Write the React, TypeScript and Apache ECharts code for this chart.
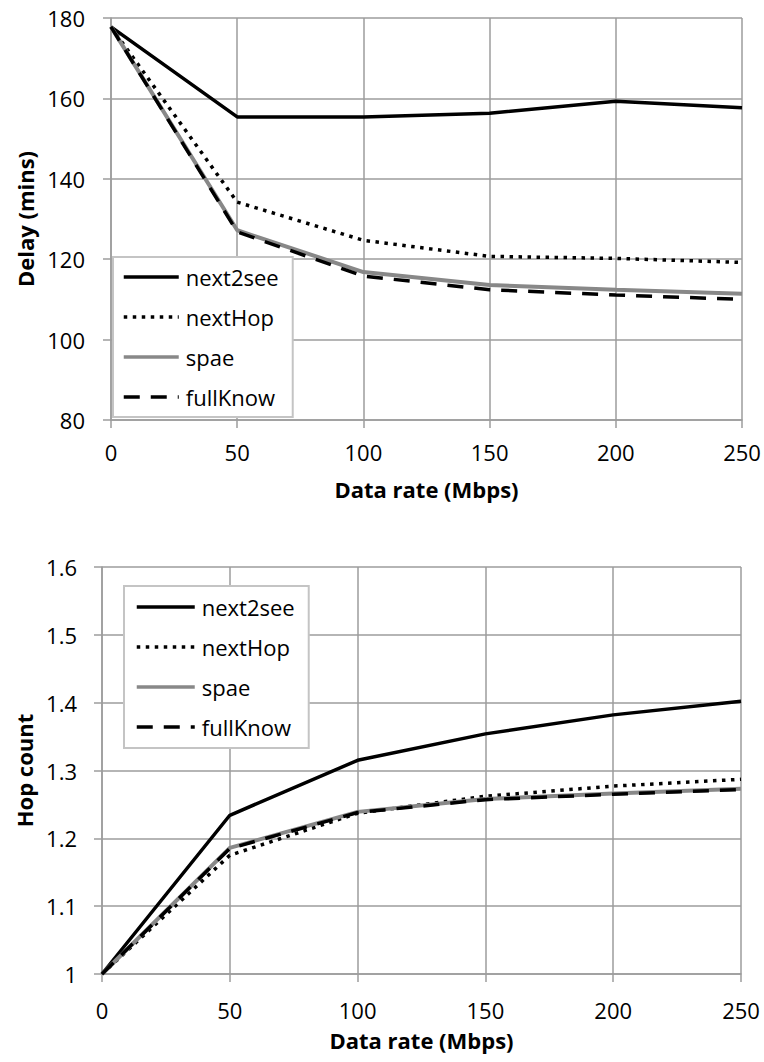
import React, { useEffect, useRef } from "react";
import * as echarts from "echarts";

const dataRates = [0, 50, 100, 150, 200, 250];
const seriesNames = ["next2see", "nextHop", "spae", "fullKnow"];

const delayNext2see = [177.8, 155.4, 155.4, 156.3, 159.3, 157.7];
const delayNextHop = [177.8, 134.2, 124.7, 120.7, 120.2, 119.2];
const delaySpae = [177.8, 127.2, 116.8, 113.6, 112.4, 111.4];
const delayFullKnow = [177.8, 126.8, 115.8, 112.4, 111.1, 110.0];

const hopNext2see = [1.0, 1.234, 1.315, 1.354, 1.382, 1.402];
const hopNextHop = [1.0, 1.175, 1.237, 1.262, 1.277, 1.287];
const hopSpae = [1.0, 1.186, 1.239, 1.258, 1.266, 1.273];
const hopFullKnow = [1.0, 1.185, 1.238, 1.257, 1.265, 1.272];

const FONT = "'Open Sans', 'DejaVu Sans', sans-serif";
const GRAY = "#9c9c9c";

const lineStyles: any[] = [
  { color: "#000000", width: 3.5, type: "solid" },
  { color: "#000000", width: 3.5, type: [3.5, 5.5] },
  { color: "#888888", width: 4, type: "solid" },
  { color: "#000000", width: 3.5, type: [16, 11] },
];

function pairs(xs: number[], ys: number[]) {
  return xs.map((x, i) => [x, ys[i]]);
}

function makeXAxis(gridIndex: number, nameGap: number, labelMargin: number) {
  return {
    gridIndex,
    type: "value",
    min: 0,
    max: 250,
    interval: 50,
    name: "Data rate (Mbps)",
    nameLocation: "middle",
    nameGap,
    nameTextStyle: { fontFamily: FONT, fontSize: 22, fontWeight: "bold", color: "#000" },
    axisLine: { show: true, lineStyle: { color: GRAY, width: 1.5 } },
    axisTick: { show: true, length: 8, lineStyle: { color: GRAY, width: 1.5 } },
    axisLabel: { margin: labelMargin, fontFamily: FONT, fontSize: 22, color: "#000" },
    splitLine: { show: true, lineStyle: { color: GRAY, width: 1.5 } },
  };
}

function makeYAxis(
  gridIndex: number,
  name: string,
  min: number,
  max: number,
  interval: number,
  nameGap: number,
  labelMargin: number
) {
  return {
    gridIndex,
    type: "value",
    min,
    max,
    interval,
    name,
    nameLocation: "middle",
    nameRotate: 90,
    nameGap,
    nameTextStyle: { fontFamily: FONT, fontSize: 22, fontWeight: "bold", color: "#000" },
    axisLine: { show: true, lineStyle: { color: GRAY, width: 1.5 } },
    axisTick: { show: true, length: 8, lineStyle: { color: GRAY, width: 1.5 } },
    axisLabel: { margin: labelMargin, fontFamily: FONT, fontSize: 22, color: "#000" },
    splitLine: { show: true, lineStyle: { color: GRAY, width: 1.5 } },
  };
}

function makeLegend(left: number, top: number, itemWidth: number, padding: number[]) {
  return {
    orient: "vertical",
    left,
    top,
    data: seriesNames,
    itemWidth,
    itemHeight: 14,
    itemGap: 18,
    padding,
    backgroundColor: "#ffffff",
    borderColor: "#c4c4c4",
    borderWidth: 2,
    selectedMode: false,
    textStyle: { fontFamily: FONT, fontSize: 22, color: "#000", lineHeight: 22, padding: [0, 0, 0, 2] },
    lineStyle: { width: 3.5 },
    itemStyle: { opacity: 0 },
  };
}

export default function App() {
  const ref = useRef<HTMLDivElement>(null);

  useEffect(() => {
    if (!ref.current) return;
    const chart = echarts.init(ref.current, null, { renderer: "svg" });

    const delaySets = [delayNext2see, delayNextHop, delaySpae, delayFullKnow];
    const hopSets = [hopNext2see, hopNextHop, hopSpae, hopFullKnow];

    const series: any[] = [];
    delaySets.forEach((ys, i) => {
      series.push({
        name: seriesNames[i],
        type: "line",
        xAxisIndex: 0,
        yAxisIndex: 0,
        data: pairs(dataRates, ys),
        symbol: "none",
        lineStyle: lineStyles[i],
        itemStyle: { color: lineStyles[i].color },
        z: 2 + i,
      });
    });
    hopSets.forEach((ys, i) => {
      series.push({
        name: seriesNames[i],
        type: "line",
        xAxisIndex: 1,
        yAxisIndex: 1,
        data: pairs(dataRates, ys),
        symbol: "none",
        lineStyle: lineStyles[i],
        itemStyle: { color: lineStyles[i].color },
        z: 2 + i,
      });
    });

    chart.setOption({
      animation: false,
      backgroundColor: "#ffffff",
      textStyle: { fontFamily: FONT },
      grid: [
        { left: 111, top: 18, width: 631, height: 402 },
        { left: 102, top: 567, width: 639, height: 407 },
      ],
      xAxis: [makeXAxis(0, 58, 21), makeXAxis(1, 55, 25)],
      yAxis: [
        makeYAxis(0, "Delay (mins)", 80, 180, 20, 74, 26),
        makeYAxis(1, "Hop count", 1, 1.6, 0.1, 65, 25),
      ],
      legend: [
        makeLegend(113, 257, 55, [9, 14, 9, 9]),
        makeLegend(124, 586, 58, [10, 14, 10, 11]),
      ],
      series,
    });

    return () => {
      chart.dispose();
    };
  }, []);

  return (
    <div
      ref={ref}
      style={{ position: "absolute", left: 0, top: 0, width: 764, height: 1062, background: "#fff" }}
    />
  );
}
